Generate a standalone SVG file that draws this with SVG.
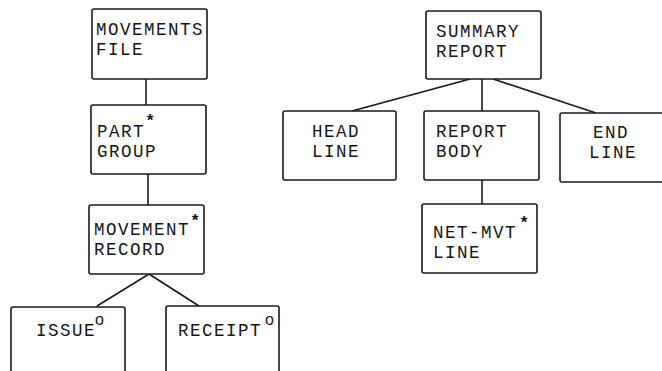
<svg xmlns="http://www.w3.org/2000/svg" width="662" height="371" viewBox="0 0 662 371">
  <style>
    .box { fill: #fff; stroke: #1a1a1a; stroke-width: 1.6; }
    .lbl { font-family: "Liberation Mono", "Courier New", monospace; font-size: 17.5px; letter-spacing: 1.5px; fill: #151515; }
    .mark { font-family: "Liberation Mono", "Courier New", monospace; font-size: 17px; font-weight: bold; fill: #151515; }
    .sel { font-family: "Liberation Sans", Arial, sans-serif; font-size: 16px; fill: #151515; }
    .wire { stroke: #1a1a1a; stroke-width: 1.6; fill: none; }
  </style>
  <rect width="662" height="371" fill="#fff"/>

  <g id="connectors">
    <line class="wire" x1="146" y1="79" x2="146" y2="105"/>
    <line class="wire" x1="148" y1="174" x2="148" y2="205"/>
    <line class="wire" x1="149" y1="274" x2="97" y2="306"/>
    <line class="wire" x1="149" y1="274" x2="199" y2="306"/>
    <line class="wire" x1="470" y1="79" x2="352" y2="111"/>
    <line class="wire" x1="482" y1="79" x2="482" y2="111"/>
    <line class="wire" x1="493" y1="79" x2="596" y2="113"/>
    <line class="wire" x1="482" y1="180" x2="482" y2="204"/>
  </g>

  <g id="movements-file">
    <rect class="box" x="92" y="9" width="115" height="70" rx="2"/>
    <text class="lbl" x="96" y="35">MOVEMENTS</text>
    <text class="lbl" x="96" y="55">FILE</text>
  </g>

  <g id="part-group">
    <rect class="box" x="91" y="105" width="115" height="69" rx="2"/>
    <text class="lbl" x="97" y="137">PART</text>
    <text class="lbl" x="97" y="157">GROUP</text>
    <text class="mark" x="145" y="126">*</text>
  </g>

  <g id="movement-record">
    <rect class="box" x="89" y="205" width="115" height="69" rx="2"/>
    <text class="lbl" x="94" y="235">MOVEMENT</text>
    <text class="lbl" x="94" y="255">RECORD</text>
    <text class="mark" x="190" y="226">*</text>
  </g>

  <g id="issue">
    <path class="box" d="M11 375 V309 Q11 307 13 307 H123 Q125 307 125 309 V375"/>
    <text class="lbl" x="36" y="336">ISSUE</text>
    <text class="sel" x="95" y="325">o</text>
  </g>

  <g id="receipt">
    <path class="box" d="M166 375 V308 Q166 306 168 306 H277 Q279 306 279 308 V375"/>
    <text class="lbl" x="178" y="336">RECEIPT</text>
    <text class="sel" x="265" y="325">o</text>
  </g>

  <g id="summary-report">
    <rect class="box" x="426" y="11" width="115" height="68" rx="2"/>
    <text class="lbl" x="436" y="37">SUMMARY</text>
    <text class="lbl" x="436" y="57">REPORT</text>
  </g>

  <g id="head-line">
    <rect class="box" x="283" y="111" width="113" height="69" rx="2"/>
    <text class="lbl" x="312" y="137">HEAD</text>
    <text class="lbl" x="312" y="157">LINE</text>
  </g>

  <g id="report-body">
    <rect class="box" x="424" y="111" width="115" height="69" rx="2"/>
    <text class="lbl" x="436" y="137">REPORT</text>
    <text class="lbl" x="436" y="157">BODY</text>
  </g>

  <g id="end-line">
    <rect class="box" x="560" y="113" width="115" height="69" rx="2"/>
    <text class="lbl" x="593" y="138">END</text>
    <text class="lbl" x="589" y="158">LINE</text>
  </g>

  <g id="net-mvt-line">
    <rect class="box" x="422" y="204" width="115" height="69" rx="2"/>
    <text class="lbl" x="433" y="238">NET-MVT</text>
    <text class="lbl" x="433" y="258">LINE</text>
    <text class="mark" x="519" y="228">*</text>
  </g>
</svg>
